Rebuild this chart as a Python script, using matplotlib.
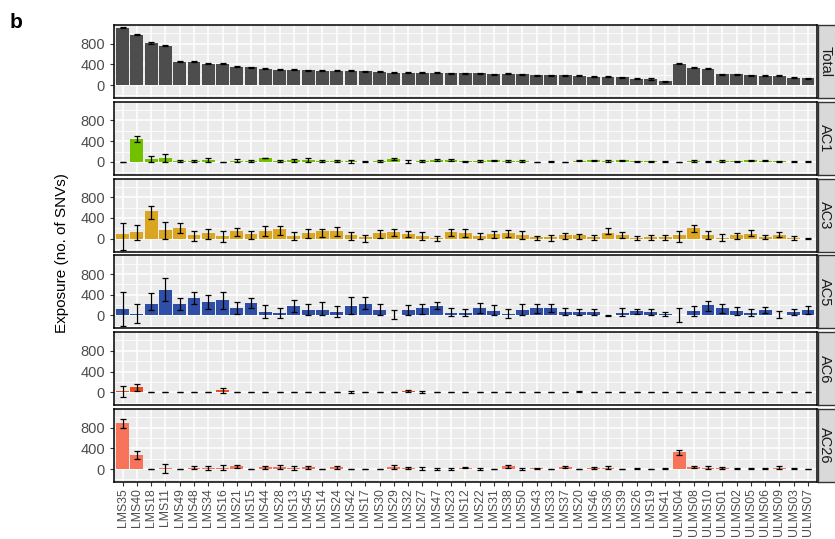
import numpy as np
import matplotlib
matplotlib.use('Agg')
import matplotlib.pyplot as plt

plt.rcParams['font.family'] = ['Liberation Sans', 'DejaVu Sans']

# Sampel (urutan sumbu x)
samples = ['LMS35', 'LMS40', 'LMS18', 'LMS11', 'LMS49', 'LMS48', 'LMS34', 'LMS16', 'LMS21', 'LMS15',
           'LMS44', 'LMS28', 'LMS13', 'LMS45', 'LMS14', 'LMS24', 'LMS42', 'LMS17', 'LMS30', 'LMS29',
           'LMS32', 'LMS27', 'LMS47', 'LMS23', 'LMS12', 'LMS22', 'LMS31', 'LMS38', 'LMS50', 'LMS43',
           'LMS33', 'LMS37', 'LMS20', 'LMS46', 'LMS36', 'LMS39', 'LMS26', 'LMS19', 'LMS41', 'ULMS04',
           'ULMS08', 'ULMS10', 'ULMS01', 'ULMS02', 'ULMS05', 'ULMS06', 'ULMS09', 'ULMS03', 'ULMS07']

# Total
total = [1105, 975, 812, 760, 455, 455, 416, 416, 351, 345, 312, 300, 293, 286, 280, 280, 273, 267, 254, 240,
         240, 240, 240, 228, 228, 228, 208, 215, 208, 189, 189, 189, 176, 163, 163, 150, 124, 117, 78, 410,
         338, 312, 208, 208, 189, 182, 176, 143, 130]
total_err = [12, 12, 10, 10, 10, 10, 10, 10, 10, 10, 10, 10, 10, 10, 10, 10, 10, 10, 10, 10,
             10, 10, 10, 10, 10, 10, 10, 10, 10, 10, 10, 10, 10, 10, 10, 10, 10, 10, 10, 10,
             10, 10, 10, 10, 10, 10, 10, 10, 10]

# AC1
ac1 = [0, 442, 52, 78, 20, 20, 35, 0, 20, 20, 75, 15, 30, 35, 15, 15, 10, 5, 25, 55,
       5, 15, 30, 30, 10, 10, 30, 20, 20, 0, 5, 0, 25, 35, 25, 30, 10, 10, 5, 0,
       10, 5, 10, 10, 35, 25, 10, 5, 5]
ac1_lo = [0, 375, -5, 0, -5, -5, 5, 0, -10, -5, 67, -10, 0, 5, -10, -10, -15, 0, 5, 30,
          -20, -5, 10, 10, -5, -10, 15, 5, -5, 0, -10, 0, 15, 25, 5, 20, 0, 0, -3, 0,
          -10, -5, -10, -5, 25, 15, 0, -5, -5]
ac1_hi = [0, 505, 110, 155, 45, 45, 65, 0, 50, 45, 83, 40, 60, 65, 40, 40, 35, 10, 45, 80,
          30, 35, 50, 50, 25, 30, 45, 35, 45, 0, 20, 0, 35, 45, 45, 40, 20, 20, 13, 0,
          30, 15, 30, 25, 45, 35, 20, 15, 15]

# AC3
ac3 = [85, 124, 535, 170, 215, 65, 105, 45, 145, 85, 150, 185, 45, 105, 145, 145, 65, 33, 105, 124,
       85, 52, 13, 124, 105, 45, 85, 117, 65, 26, 26, 65, 65, 26, 105, 70, 6, 26, 26, 65,
       200, 65, 20, 65, 85, 33, 65, 6, 0]
ac3_lo = [-210, -20, 380, 0, 118, -40, 0, -65, 45, 0, 52, 80, -33, 6, 40, 52, -33, -60, 20, 60,
          26, -20, -52, 60, 26, -13, 13, 26, 0, -33, -45, 0, 0, -20, 92, 10, -33, -20, -20, -65,
          130, 0, -40, 0, 45, -6, 26, -20, -8]
ac3_hi = [295, 260, 640, 330, 295, 150, 195, 145, 215, 145, 245, 250, 130, 185, 195, 230, 130, 80, 160, 195,
          150, 120, 45, 195, 185, 117, 156, 175, 156, 52, 65, 117, 98, 65, 215, 120, 45, 65, 65, 143,
          260, 143, 98, 117, 163, 78, 130, 52, 8]

# AC5
ac5 = [124, 26, 221, 494, 221, 338, 260, 299, 143, 240, 65, 45, 182, 110, 110, 65, 182, 221, 110, 6,
       110, 143, 182, 45, 45, 143, 85, 26, 105, 143, 143, 65, 65, 65, 0, 45, 85, 65, 26, 13,
       85, 195, 143, 85, 45, 105, 6, 65, 105]
ac5_lo = [-195, -143, 98, 286, 98, 215, 117, 117, 26, 143, -45, -45, 65, 0, 0, -33, 20, 130, 0, -65,
          0, 33, 117, -13, -20, 52, 0, -52, 0, 52, 65, 0, 0, 0, -5, -13, 20, 0, -20, -130,
          -20, 78, 45, 0, -20, 45, -52, 0, 33]
ac5_hi = [455, 215, 442, 715, 345, 455, 390, 449, 260, 345, 195, 143, 299, 215, 260, 182, 360, 357, 228, 98,
          195, 228, 260, 143, 130, 234, 195, 117, 228, 215, 228, 143, 130, 130, 5, 143, 130, 117, 65, 143,
          182, 280, 228, 163, 130, 163, 85, 117, 182]

# AC6
ac6 = [15, 95, 0, 0, 0, 0, 0, 35, 0, 0, 0, 0, 0, 0, 0, 0, 5, 0, 0, 0,
       25, 5, 0, 0, 0, 0, 0, 0, 0, 0, 0, 0, 10, 0, 0, 0, 0, 0, 0, 0,
       0, 0, 0, 5, 0, 5, 0, 0, 0]
ac6_err = [115, 70, 0, 0, 0, 0, 0, 50, 0, 0, 0, 0, 0, 0, 0, 0, 25, 0, 0, 0,
           20, 12, 0, 0, 0, 0, 0, 0, 0, 0, 0, 0, 10, 0, 0, 0, 0, 0, 0, 0,
           0, 0, 0, 6, 0, 6, 0, 0, 0]

# AC26
ac26 = [880, 270, 0, 15, 0, 25, 20, 30, 50, 0, 35, 35, 20, 35, 0, 35, 0, 0, 0, 40,
        20, 10, 10, 5, 30, 10, 0, 50, 5, 15, 0, 35, 0, 20, 25, 0, 10, 0, 10, 320,
        35, 30, 15, 10, 10, 10, 30, 10, 0]
ac26_err = [80, 75, 0, 90, 0, 25, 35, 40, 30, 0, 25, 35, 35, 30, 0, 25, 0, 0, 0, 30,
            20, 25, 20, 20, 15, 20, 0, 20, 25, 15, 0, 20, 0, 15, 25, 0, 15, 0, 10, 50,
            20, 20, 20, 15, 15, 15, 20, 15, 0]


def sym(vals, err):
    v = np.array(vals, dtype=float)
    e = np.array(err, dtype=float)
    return v - e, v + e


panels = [
    ('Total', total, *sym(total, total_err), '#4D4D4D'),
    ('AC1', ac1, ac1_lo, ac1_hi, '#72C100'),
    ('AC3', ac3, ac3_lo, ac3_hi, '#DAA520'),
    ('AC5', ac5, ac5_lo, ac5_hi, '#2F4EA5'),
    ('AC6', ac6, *sym(ac6, ac6_err), '#E84E1B'),
    ('AC26', ac26, *sym(ac26, ac26_err), '#F7735A'),
]

W, H = 835, 539
fig = plt.figure(figsize=(W / 100, H / 100), dpi=100)

x = np.arange(len(samples))
left, right = 114, 816.5
top0, ph, step = 25, 73, 76.8

for k, (name, vals, lo, hi, col) in enumerate(panels):
    top = top0 + k * step
    ax = fig.add_axes([left / W, 1 - (top + ph) / H, (right - left) / W, ph / H])
    ax.set_facecolor('#EBEBEB')
    ax.bar(x, vals, width=0.9, color=col, zorder=2)
    v = np.array(vals, dtype=float)
    yerr = [v - np.array(lo), np.array(hi) - v]
    ax.errorbar(x, v, yerr=yerr, fmt='none', ecolor='black', elinewidth=0.9,
                capsize=2, capthick=0.9, zorder=3)
    ax.set_xlim(-0.6, len(samples) - 0.4)
    ax.set_ylim(-250, 1160)
    ax.set_yticks([0, 400, 800])
    ax.set_yticks([-200, 200, 600, 1000], minor=True)
    ax.set_xticks(x)
    ax.grid(which='major', color='white', lw=1.1, zorder=0)
    ax.grid(which='minor', axis='y', color='white', lw=0.55, zorder=0)
    ax.set_axisbelow(True)
    for s in ax.spines.values():
        s.set_color('black')
        s.set_linewidth(1.1)
    ax.tick_params(axis='y', which='major', labelsize=10.5, labelcolor='#4D4D4D',
                   color='#333333', length=3)
    ax.tick_params(axis='y', which='minor', length=0)
    if k < len(panels) - 1:
        ax.tick_params(axis='x', labelbottom=False, length=0)
    else:
        ax.set_xticklabels(samples, rotation=90, fontsize=8.8, color='#4D4D4D')
        ax.tick_params(axis='x', color='#333333', length=3, pad=1.5)

    # strip label kanan
    sax = fig.add_axes([817.5 / W, 1 - (top + ph) / H, 22 / W, ph / H])
    sax.set_facecolor('#D9D9D9')
    sax.set_xticks([])
    sax.set_yticks([])
    for s in sax.spines.values():
        s.set_color('#333333')
        s.set_linewidth(1.0)
    sax.text(0.36, 0.5, name, rotation=-90, ha='center', va='center',
             fontsize=10.5, color='#1A1A1A', transform=sax.transAxes)

fig.text(62 / W, 1 - 253 / H, 'Exposure (no. of SNVs)', rotation=90,
         ha='center', va='center', fontsize=11)
fig.text(10 / W, 1 - 22 / H, 'b', fontsize=15, fontweight='bold', ha='left', va='center')

fig.savefig('out.png', dpi=100)
